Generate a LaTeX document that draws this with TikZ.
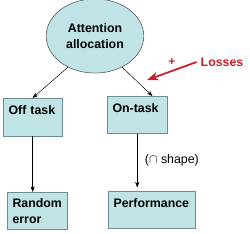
\documentclass[tikz,border=0pt]{standalone}
\usepackage{fontspec}
\setmainfont{Liberation Sans}
\usetikzlibrary{arrows.meta,shapes.geometric,positioning}

\definecolor{boxfill}{RGB}{192,228,230}
\definecolor{boxline}{RGB}{110,140,150}
\definecolor{lossred}{RGB}{205,30,40}

\tikzset{
  taskbox/.style={draw=boxline, fill=boxfill, anchor=north west, align=left,
    inner xsep=4.5pt, font=\fontsize{10.5}{13.6}\selectfont\bfseries},
  onebox/.style={taskbox, text height=8pt}
}

\begin{document}
\begin{tikzpicture}[x=0.85pt, y=-0.85pt, >=Stealth]
  \useasboundingbox (0,0) rectangle (250,234);

  % Top ellipse
  \node[ellipse, draw=black!75, fill=boxfill, minimum width=83pt, minimum height=63pt,
    align=center, font=\fontsize{10.5}{13}\selectfont\bfseries] (attn) at (95,36)
    {Attention\\allocation};

  % Task boxes
  \node[onebox, text width=41pt, inner ysep=6pt, text depth=12pt] (off) at (3,98) {Off task};
  \node[onebox, text width=42pt, inner ysep=5.5pt, text depth=12.5pt] (on) at (107,96) {On-task};

  % Outcome boxes
  \node[taskbox, text width=42pt, inner ysep=3pt, minimum height=31.5pt] (rand) at (7,192) {Random\\error};
  \node[onebox, text width=65pt, inner ysep=6pt, text depth=11.5pt] (perf) at (108,191) {Performance};

  % Arrows
  \draw[->] (attn.229) -- (off.north);
  \draw[->] (attn.311) -- (on.51);
  \draw[->] (off.south) -- (off.south |- rand.north);
  \draw[->] (on.south) -- ([yshift=3pt]on.south |- perf.north)
    node[midway, right=3pt, font=\fontsize{10.5}{12}\selectfont] {($\cap$ shape)};

  % Losses
  \node[lossred, font=\fontsize{10.5}{12}\selectfont\bfseries] (loss) at (222,62) {Losses};
  \coordinate (losstip) at (147,80);
  \draw[->, lossred, line width=1.5pt] (loss.west) -- (losstip)
    node[pos=0.5, above=1pt, font=\fontsize{10}{11}\selectfont\bfseries] {+};

\end{tikzpicture}
\end{document}
